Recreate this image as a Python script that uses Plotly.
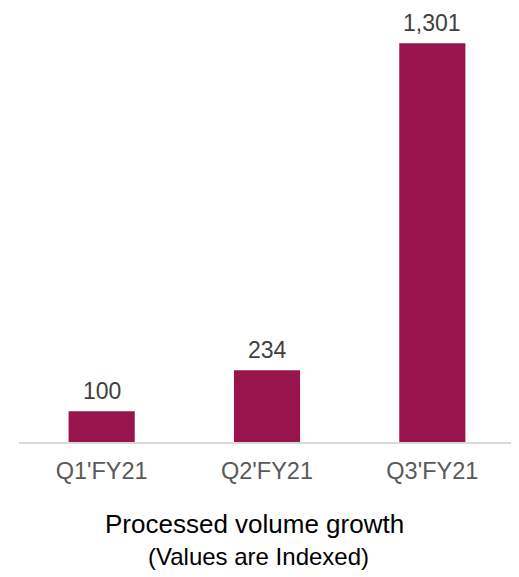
import plotly.graph_objects as go

categories = ["Q1'FY21", "Q2'FY21", "Q3'FY21"]
values = [100, 234, 1301]
labels = ["100", "234", "1,301"]
title_line1 = "Processed volume growth"
title_line2 = "(Values are Indexed)"

BAR = "#97144D"
FONT = "Liberation Sans, Arial, sans-serif"

fig = go.Figure()
fig.add_trace(go.Bar(x=categories, y=values, marker=dict(color=BAR, line=dict(width=0)),
                     hoverinfo="skip"))

for c, v, t in zip(categories, values, labels):
    fig.add_annotation(x=c, y=v, text=t, showarrow=False, yanchor="bottom", yshift=5,
                       font=dict(family=FONT, size=23, color="#404040"))

H = 429
W = 496.5
def py(p):
    return (442 - p) / H
def px(p):
    return (p - 19) / W

fig.add_annotation(xref="paper", yref="paper", x=px(255), y=py(524), text=title_line1,
                   showarrow=False, yanchor="middle", xanchor="center",
                   font=dict(family=FONT, size=26, color="#000000"))
fig.add_annotation(xref="paper", yref="paper", x=px(258.5), y=py(556), text=title_line2,
                   showarrow=False, yanchor="middle", xanchor="center",
                   font=dict(family=FONT, size=24, color="#000000"))

fig.update_layout(
    width=519, height=577,
    margin=dict(l=11, r=11.5, t=5, b=143),
    paper_bgcolor="white", plot_bgcolor="white",
    bargap=0.6,
    showlegend=False,
    xaxis=dict(showline=True, linecolor="#D9D9D9", linewidth=1.5, showgrid=False,
               ticks="outside", ticklen=7, tickcolor="rgba(0,0,0,0)",
               tickfont=dict(family=FONT, size=23.5, color="#595959"), fixedrange=True),
    yaxis=dict(range=[0, 1400], visible=False, showgrid=False, fixedrange=True),
)

fig.write_html("out.html", config={"displayModeBar": False})
